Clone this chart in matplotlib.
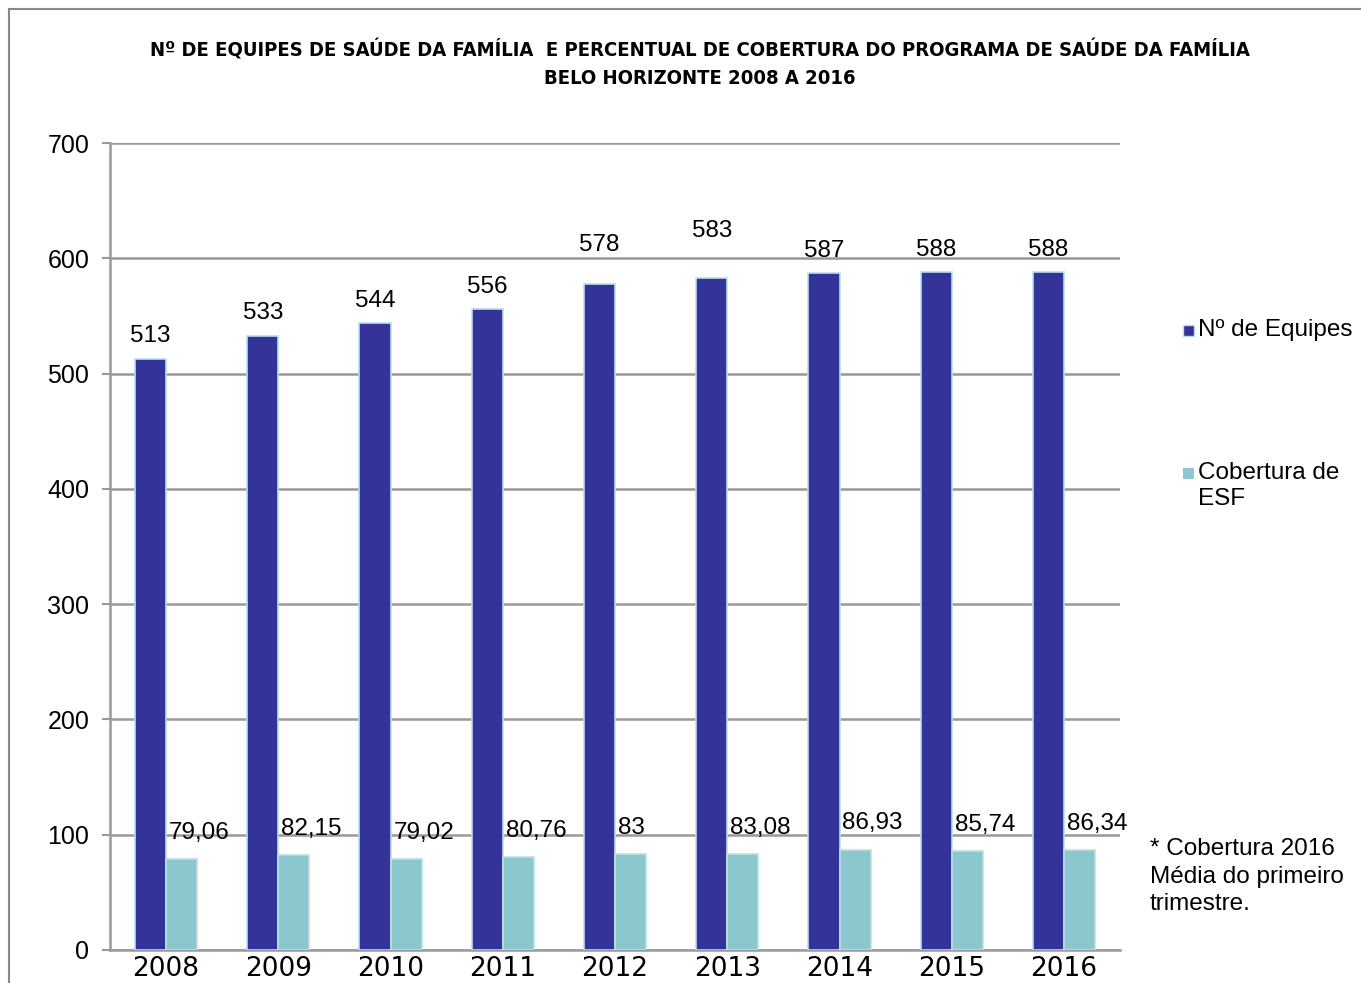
import matplotlib.pyplot as plt
import matplotlib.patches as mpatches
import numpy as np

anos = ['2008', '2009', '2010', '2011', '2012', '2013', '2014', '2015', '2016']
equipes = [513, 533, 544, 556, 578, 583, 587, 588, 588]
cobertura = [79.06, 82.15, 79.02, 80.76, 83, 83.08, 86.93, 85.74, 86.34]
cobertura_txt = ['79,06', '82,15', '79,02', '80,76', '83', '83,08', '86,93', '85,74', '86,34']

cor_equipes = '#333399'
cor_cobertura = '#8CC7CE'
cor_grade = '#999999'
fonte = 'Liberation Sans'
fonte_titulo = ['Liberation Sans Narrow', 'DejaVu Sans']

fig = plt.figure(figsize=(13.61, 9.83), dpi=100)
ax = fig.add_axes([0.0808, 0.0336, 0.7422, 0.8209])

x = np.arange(len(anos))
w = 0.277
b1 = ax.bar(x - w / 2, equipes, w, color=cor_equipes, edgecolor='#B8E0E8', linewidth=1.2, zorder=3)
b2 = ax.bar(x + w / 2, cobertura, w, color=cor_cobertura, edgecolor='#B8E0E8', linewidth=1.2, zorder=3)

# rótulos de 2012 e 2013 ficam mais altos no original
extra = {4: 12, 5: 18}
for i, (r, v) in enumerate(zip(b1, equipes)):
    ax.annotate(str(v), (r.get_x() + r.get_width() / 2, v), xytext=(0, 8 + extra.get(i, 0)),
                textcoords='offset points', ha='center', va='bottom', fontsize=17.5, family=fonte, zorder=4)
for r, v, t in zip(b2, cobertura, cobertura_txt):
    ax.annotate(t, (r.get_x(), v), xytext=(2, 11), textcoords='offset points',
                ha='left', va='bottom', fontsize=17.5, family=fonte, zorder=4)

ax.set_xlim(-0.5, len(anos) - 0.5)
ax.set_ylim(0, 700)
ax.set_yticks(range(0, 701, 100))
ax.tick_params(axis='y', labelsize=18, length=6, width=1.5, color=cor_grade, pad=9)
ax.set_xticks(x)
ax.set_xticklabels(anos, fontsize=19, family=fonte_titulo)
ax.tick_params(axis='x', length=0, pad=4)
for lab in ax.get_yticklabels():
    lab.set_family(fonte)
ax.grid(axis='y', color=cor_grade, linewidth=1.8, zorder=0)
for s in ['top', 'right']:
    ax.spines[s].set_visible(False)
for s in ['left', 'bottom']:
    ax.spines[s].set_color(cor_grade)
    ax.spines[s].set_linewidth(1.8)

fig.text(0.514, 0.949, 'Nº DE EQUIPES DE SAÚDE DA FAMÍLIA  E PERCENTUAL DE COBERTURA DO PROGRAMA DE SAÚDE DA FAMÍLIA',
         ha='center', va='center', fontsize=14.5, fontweight='bold', fontstretch='condensed', family=fonte_titulo)
fig.text(0.514, 0.920, 'BELO HORIZONTE 2008 A 2016',
         ha='center', va='center', fontsize=14.5, fontweight='bold', fontstretch='condensed', family=fonte_titulo)

# legenda manual
fig.patches.append(mpatches.Rectangle((1183 / 1361, 1 - 336 / 983), 11 / 1361, 11 / 983,
                                      transform=fig.transFigure, facecolor=cor_equipes, edgecolor='#B8E0E8', lw=1))
fig.text(1198 / 1361, 1 - 330 / 983, 'Nº de Equipes', ha='left', va='center', fontsize=17.5, family=fonte)
fig.patches.append(mpatches.Rectangle((1183 / 1361, 1 - 479 / 983), 11 / 1361, 11 / 983,
                                      transform=fig.transFigure, facecolor=cor_cobertura, edgecolor='none'))
fig.text(1198 / 1361, 1 - 462 / 983, 'Cobertura de\nESF', ha='left', va='top', fontsize=17.5,
         family=fonte, linespacing=1.25)

fig.text(1150 / 1361, 1 - 838 / 983, '* Cobertura 2016\nMédia do primeiro\ntrimestre.', ha='left', va='top',
         fontsize=17.5, family=fonte, linespacing=1.33)

# moldura
fig.patches.append(mpatches.Rectangle((9 / 1361, -0.05), 1.1, 1 - 9 / 983 + 0.05, transform=fig.transFigure,
                                      fill=False, edgecolor='#888888', lw=1.5))

fig.savefig('out.png', dpi=100)
